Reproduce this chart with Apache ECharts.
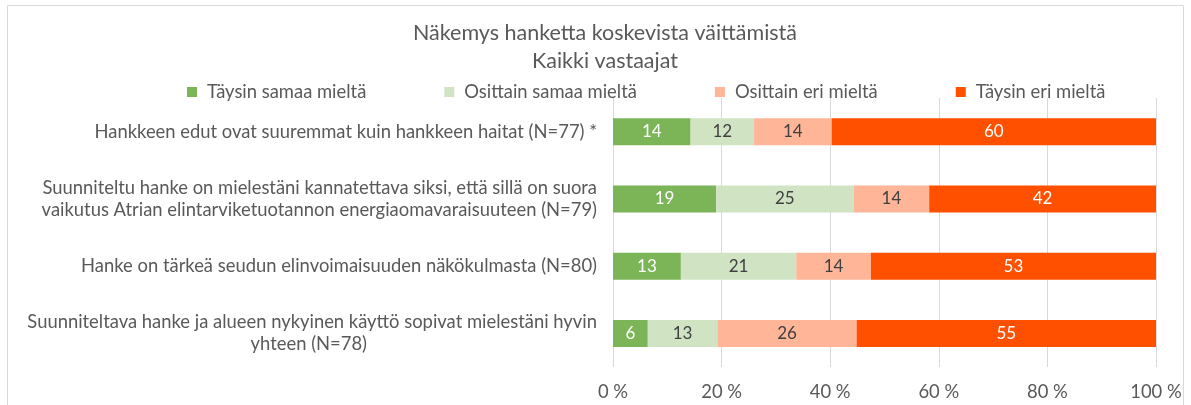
<!DOCTYPE html>
<html>
<head>
<meta charset="utf-8">
<script src="https://cdn.jsdelivr.net/npm/echarts@6/dist/echarts.min.js"></script>
<style>
  html, body { margin: 0; padding: 0; background: #fff; }
  #chart { width: 1191px; height: 405px; }
</style>
</head>
<body>
<div id="chart"></div>
<script>
// kysymykset (ylhäältä alas)
var categories = [
  'Hankkeen edut ovat suuremmat kuin hankkeen haitat (N=77) *',
  'Suunniteltu hanke on mielestäni kannatettava siksi, että sillä on suora\nvaikutus Atrian elintarviketuotannon energiaomavaraisuuteen (N=79)',
  'Hanke on tärkeä seudun elinvoimaisuuden näkökulmasta (N=80)',
  'Suunniteltava hanke ja alueen nykyinen käyttö sopivat mielestäni hyvin\nyhteen (N=78)'
];
var seriesNames = ['Täysin samaa mieltä', 'Osittain samaa mieltä', 'Osittain eri mieltä', 'Täysin eri mieltä'];
// osuudet (%), palkin tekstinä pyöristetty arvo
var taysinSamaa   = [14.29, 18.99, 12.5, 6.41];
var osittainSamaa = [11.69, 25.32, 21.25, 12.82];
var osittainEri   = [14.29, 13.92, 13.75, 25.64];
var taysinEri     = [59.74, 41.77, 52.5, 55.13];
var xTicks = ['0 %', '20 %', '40 %', '60 %', '80 %', '100 %'];

var colors = ['#7cb458', '#d0e4c4', '#ffb597', '#ff5000'];
var labelColors = ['#ffffff', '#404040', '#404040', '#ffffff'];
var font = 'Lato';
var labelSize = 18.4;

function makeSeries(i, data) {
  return {
    name: seriesNames[i],
    type: 'bar',
    stack: 'all',
    data: data,
    barWidth: 27,
    itemStyle: { color: colors[i] },
    label: {
      show: true,
      position: 'inside',
      color: labelColors[i],
      fontFamily: font,
      fontSize: 17,
      formatter: function (p) { return Math.round(p.value); }
    }
  };
}

var chart = echarts.init(document.getElementById('chart'));
chart.setOption({
  animation: false,
  textStyle: { fontFamily: font },
  graphic: [{
    type: 'rect',
    shape: { x: 7.5, y: 5.5, width: 1176, height: 420 },
    style: { fill: 'none', stroke: '#d9d9d9', lineWidth: 1 },
    silent: true
  }],
  title: {
    text: 'Näkemys hanketta koskevista väittämistä\nKaikki vastaajat',
    left: 600,
    top: 14,
    textAlign: 'center',
    textStyle: { fontFamily: font, fontSize: 21.5, fontWeight: 'normal', color: '#595959', lineHeight: 28 }
  },
  legend: {
    left: 182,
    top: 78,
    itemWidth: 10,
    itemHeight: 10,
    itemGap: 78,
    icon: 'rect',
    data: seriesNames,
    textStyle: { fontFamily: font, fontSize: labelSize, color: '#595959', padding: [0, 0, 0, 5] }
  },
  grid: { left: 613, right: 35, top: 98, bottom: 38, containLabel: false },
  xAxis: {
    type: 'value',
    min: 0,
    max: 100,
    interval: 20,
    axisLine: { show: false },
    axisTick: { show: false },
    splitLine: { lineStyle: { color: '#d9d9d9', width: 1 } },
    axisLabel: {
      color: '#595959',
      fontFamily: font,
      fontSize: labelSize,
      margin: 16,
      formatter: function (v) { return xTicks[v / 20]; }
    }
  },
  yAxis: {
    type: 'category',
    inverse: true,
    data: categories,
    axisLine: { show: false },
    axisTick: { show: false },
    axisLabel: {
      color: '#595959',
      fontFamily: font,
      fontSize: labelSize,
      lineHeight: 22,
      margin: 16,
      formatter: function (v, i) {
        var lines = v.split('\n');
        if (i === 3) {
          // lyhyt toinen rivi keskelle
          return '{t|' + lines[0] + '}\n{k|' + lines[1] + '}';
        }
        return v;
      },
      rich: {
        t: { color: '#595959', fontFamily: font, fontSize: labelSize, lineHeight: 22 },
        k: { color: '#595959', fontFamily: font, fontSize: labelSize, lineHeight: 22, padding: [0, 230, 0, 0] }
      }
    }
  },
  series: [
    makeSeries(0, taysinSamaa),
    makeSeries(1, osittainSamaa),
    makeSeries(2, osittainEri),
    makeSeries(3, taysinEri)
  ]
});
</script>
</body>
</html>
